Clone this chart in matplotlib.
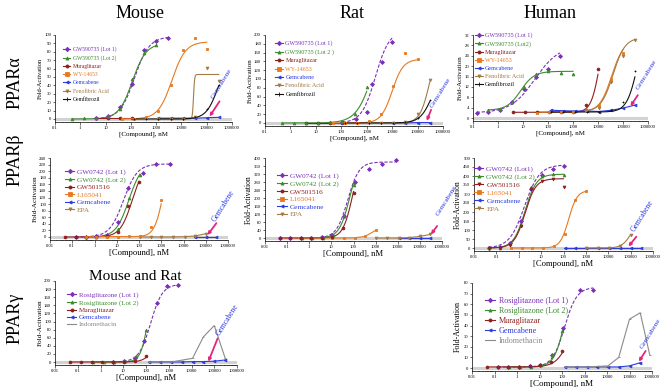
import numpy as np
import matplotlib
matplotlib.use("Agg")
import matplotlib.pyplot as plt
from matplotlib.lines import Line2D
from matplotlib.ticker import FixedLocator, LogLocator, NullFormatter

plt.rcParams['font.family'] = ['Liberation Serif', 'DejaVu Serif']

W, H = 666, 389

PURPLE = '#7a30b8'
GREEN = '#3d8b2f'
DKRED = '#8e1f1f'
ORANGE = '#e8791e'
BLUE = '#2c3be0'
TAN = '#a47b45'
BLACK = '#111111'
GREY = '#8a8a8a'
PINK = '#e3267d'

# ----------------------------------------------------------------- PPARa mouse
ma_gw1_x = [4.1, 12, 37, 111, 333, 1000, 3000]
ma_gw1_y = [1, 4, 14, 42, 82, 93, 97]
ma_gw1_fit = [0, 98, 140, 1.5]
ma_gw2_x = [0.46, 1.4, 4.1, 12, 37, 111, 333, 1000]
ma_gw2_y = [0, 1, 1, 3, 12, 48, 78, 88]
ma_gw2_fit = [0, 90, 115, 1.6]
ma_mura_x = [4.1, 12, 37, 111]
ma_mura_y = [1, 1, 1, 1]
ma_wy_x = [46, 137, 411, 1230, 3700, 11100, 33300, 100000]
ma_wy_y = [0, 0, 2, 10, 40, 82, 97, 83]
ma_wy_fit = [0, 92, 4200, 1.6]
ma_gem_x = [1230, 3700, 11100, 33300, 100000, 300000]
ma_gem_y = [1, 1, 1, 1, 1.5, 2]
ma_feno_x = [1230, 3700, 11100, 33300, 100000, 300000]
ma_feno_y = [0, 0, 0, 2, 61, 45]
ma_feno_fit = [0, 53, 30000, 20]
ma_gfz_x = [137, 411, 1230, 3700, 11100, 33300, 100000, 300000]
ma_gfz_y = [0, 0, 0, 0, 0, 2, 12, 41]
ma_gfz_fit = [0, 80, 300000, 1.8]

# ----------------------------------------------------------------- PPARa rat
ra_gw1_x = [111, 370, 1000, 1600, 4000, 10000]
ra_gw1_y = [2, 8, 26, 88, 138, 183]
ra_gw1_fit = [0, 210, 2200, 1.6]
ra_gw2_x = [0.46, 1.4, 4.1, 12, 37, 111, 333, 1000]
ra_gw2_y = [0, 0, 1, 1, 2, 5, 20, 82]
ra_gw2_fit = [0, 250, 2000, 1.3]
ra_mura_x = [4.1, 12, 37, 111]
ra_mura_y = [1, 1, 1, 1]
ra_wy_x = [46, 137, 411, 1230, 3700, 11100, 33300, 100000]
ra_wy_y = [0, 0, 1, 5, 20, 85, 158, 145]
ra_wy_fit = [0, 145, 10000, 2]
ra_gem_x = [11100, 33300, 100000, 300000]
ra_gem_y = [0, 0, 1, 1]
ra_feno_x = [1230, 3700, 11100, 33300, 100000, 300000]
ra_feno_y = [0, 0, 0, 2, 20, 97]
ra_feno_fit = [0, 200, 320000, 2.2]
ra_gfz_x = [137, 411, 1230, 3700, 11100, 33300, 100000, 300000]
ra_gfz_y = [0, 0, 0, 0, 0, 2, 12, 52]
ra_gfz_fit = [0, 130, 400000, 1.8]

# ----------------------------------------------------------------- PPARa human
ha_gw1_x = [0.14, 0.41, 1.2, 3.7, 11, 33, 100, 300]
ha_gw1_y = [1.8, 2.3, 3, 6, 11, 16, 19, 24]
ha_gw1_fit = [2, 28, 30, 0.9]
ha_gw2_x = [0.41, 1.2, 3.7, 11, 33, 100, 333, 1000]
ha_gw2_y = [3, 3.3, 6, 12, 17, 18, 17.5, 17]
ha_gw2_fit = [3, 18, 8, 1.6]
ha_mura_x = [4.1, 12, 37, 111, 333, 1000, 3333, 10000]
ha_mura_y = [2.3, 2.3, 2.2, 2.2, 2.3, 2.5, 5, 19]
ha_mura_fit = [2.2, 40, 12000, 2.5]
ha_wy_x = [37, 111, 333, 1000, 3333, 11100, 33300, 100000]
ha_wy_y = [2, 2.2, 2.3, 2.5, 3, 5, 15, 25]
ha_wy_fit = [2.3, 30, 35000, 1.8]
ha_gem_x = [137, 411, 1230, 3700, 11100, 33300, 100000, 300000]
ha_gem_y = [3, 2.8, 2.7, 2.7, 2.5, 3, 3.8, 5]
ha_feno_x = [3333, 11100, 33300, 100000, 300000]
ha_feno_y = [3, 4, 14, 24, 30]
ha_feno_fit = [2.5, 31, 40000, 1.8]
ha_gfz_x = [137, 411, 1230, 3700, 11100, 33300, 100000, 300000]
ha_gfz_y = [2.3, 2.3, 2.3, 2.2, 2.2, 3, 6, 18]
ha_gfz_fit = [2.3, 40, 400000, 2]

# ----------------------------------------------------------------- PPARb mouse
mb_gw1_x = [0.14, 0.41, 1.2, 3.7, 11, 33, 150, 600, 2500]
mb_gw1_y = [1, 1, 2, 6, 45, 150, 195, 222, 222]
mb_gw1_fit = [0, 222, 20, 1.4]
mb_gw2_x = [0.41, 1.2, 3.7, 11, 37, 111]
mb_gw2_y = [0, 1, 3, 25, 120, 188]
mb_gw2_fit = [0, 225, 35, 1.5]
mb_516_x = [0.046, 0.14, 0.41, 1.2, 3.7, 11, 33, 100]
mb_516_y = [0, 0, 0, 1, 2, 15, 95, 168]
mb_516_fit = [0, 225, 50, 1.6]
mb_l16_x = [0.41, 1.2, 3.7, 11, 37, 111, 333, 1000]
mb_l16_y = [0, 0, 0, 1, 2, 3, 30, 112]
mb_l16_fit = [1, 250, 1200, 2.2]
mb_gem_x = [33300, 100000, 300000]
mb_gem_y = [0, 0, 0]
mb_epa_x = [111, 333, 1000, 3333, 11100, 33300, 100000]
mb_epa_y = [0, 0, 0, 0, 1, 3, 10]

# ----------------------------------------------------------------- PPARb rat
rb_gw1_x = [0.046, 0.14, 0.41, 1.2, 3.7, 11, 37, 111, 500, 2000, 8000]
rb_gw1_y = [0, 0, 0, 1, 3, 15, 110, 280, 343, 372, 388]
rb_gw1_fit = [0, 380, 55, 1.7]
rb_gw2_x = [0.46, 1.4, 4.1, 12, 37, 100]
rb_gw2_y = [0, 0, 2, 15, 110, 265]
rb_gw2_fit = [0, 420, 70, 1.8]
rb_516_x = [0.046, 0.14, 0.41, 1.2, 3.7, 11, 33, 100]
rb_516_y = [0, 0, 0, 0, 1, 5, 50, 225]
rb_516_fit = [0, 420, 90, 2]
rb_l16_x = [0.046, 0.14, 0.41, 1.2, 3.7, 11, 37, 111, 333, 1000]
rb_l16_y = [0, 0, 0, 0, 0, 0, 0, 1, 8, 38]
rb_gem_x = [11100, 33300, 100000, 300000]
rb_gem_y = [0, 0, 0, 0]
rb_epa_x = [1000, 3333, 11100, 33300, 100000, 300000]
rb_epa_y = [0, 0, 0, 2, 8, 18]

# ----------------------------------------------------------------- PPARb human
hb_gw1_x = [0.046, 0.14, 0.41, 1.2, 3.7, 11, 33, 100]
hb_gw1_y = [0, 5, 30, 150, 330, 405, 440, 455]
hb_gw1_fit = [0, 462, 1.8, 1.3]
hb_gw2_x = [0.046, 0.14, 0.41, 1.2, 3.7, 11, 33, 100]
hb_gw2_y = [0, 2, 20, 130, 340, 400, 410, 408]
hb_gw2_fit = [0, 410, 1.9, 1.7]
hb_516_x = [0.046, 0.14, 0.41, 1.2, 3.7, 11, 33, 100]
hb_516_y = [0, 2, 15, 120, 330, 375, 385, 340]
hb_516_fit = [0, 385, 1.9, 1.8]
hb_l16_x = [0.46, 1.4, 4.1, 12, 37, 111, 333, 1000]
hb_l16_y = [0, 0, 0, 0, 10, 80, 265, 315]
hb_l16_fit = [0, 320, 170, 2.3]
hb_gem_x = [111, 333, 1000, 3333, 11100, 33300, 100000, 300000]
hb_gem_y = [0, 0, 0, 0, 0, 0, 0, 0]
hb_epa_x = [1000, 3333, 11100, 33300, 100000]
hb_epa_y = [0, 0, 2, 12, 75]
hb_epa_fit = [0, 150, 100000, 2.2]

# ----------------------------------------------------------------- PPARg mouse and rat
mg_r1_x = [3.7, 11, 33, 82, 300, 800, 2500]
mg_r1_y = [1, 2, 10, 52, 145, 188, 190]
mg_r1_fit = [0, 192, 160, 1.7]
mg_r2_x = [0.46, 1.4, 4.1, 12, 37, 100]
mg_r2_y = [0, 0, 1, 3, 15, 78]
mg_r2_fit = [0, 250, 140, 2.5]
mg_mura_x = [0.046, 0.14, 0.41, 1.2, 3.7, 11, 33, 100]
mg_mura_y = [0, 0, 0, 0, 0, 1, 3, 15]
mg_mura_fit = [0, 80, 250, 2]
mg_gem_x = [137, 411, 1230, 3700, 11100, 33300, 100000, 300000]
mg_gem_y = [0, 0, 0, 0, 1, 1, 2, 5]
mg_indo_x = [137, 1230, 11100, 33300, 100000, 300000]
mg_indo_y = [0, 0, 9, 62, 90, 10]

# ----------------------------------------------------------------- PPARg human
hg_r1_x = [0.14, 0.41, 1.2, 3.7, 11, 37, 111, 600, 2500]
hg_r1_y = [1, 1, 1, 1.5, 3, 12, 38, 73, 73]
hg_r1_fit = [1, 76, 130, 1.6]
hg_r2_x = [0.46, 1.4, 4.1, 12, 37, 100]
hg_r2_y = [1, 1, 1, 3, 12, 35]
hg_r2_fit = [1, 100, 150, 1.8]
hg_mura_x = [0.046, 0.14, 0.41, 1.2, 3.7, 11, 33, 100]
hg_mura_y = [1, 1, 1, 1, 1.5, 3, 6, 16]
hg_mura_fit = [1, 50, 200, 1.5]
hg_gem_x = [137, 411, 1230, 3700, 11100, 33300, 100000, 300000]
hg_gem_y = [1, 1, 1, 1, 1, 1, 2, 5]
hg_indo_x = [137, 1230, 11100, 33300, 100000, 300000, 800000]
hg_indo_y = [1, 1, 2, 10, 46, 52, 12]


def hill(x, p):
    b, t, ec, n = p
    return b + (t - b) / (1 + (ec / x) ** n)


def S(label, x, y, color, marker, fit=None, dashed=False):
    return dict(label=label, x=x, y=y, color=color, marker=marker, fit=fit, dashed=dashed)


PANELS = [
    dict(box=(55, 232, 35, 119), xmin=0.1, ymax=100, ystep=10, leg=(0.045, 0.87), lfs=4.1, lsp=0.55,
         xfs=5, yfs=4.6, arrow=((1.3e5, 3), (3.2e5, 21)), gtext=(1.7e5, 25), gfs=5.2,
         series=[S('GW590735 (Lot 1)', ma_gw1_x, ma_gw1_y, PURPLE, 'D', ma_gw1_fit, True),
                 S('GW590735 (Lot 2)', ma_gw2_x, ma_gw2_y, GREEN, '^', ma_gw2_fit),
                 S('Muraglitazar', ma_mura_x, ma_mura_y, DKRED, 'o'),
                 S('WY-14653', ma_wy_x, ma_wy_y, ORANGE, 's', ma_wy_fit),
                 S('Gemcabene', ma_gem_x, ma_gem_y, BLUE, '<'),
                 S('Fenofibric Acid', ma_feno_x, ma_feno_y, TAN, 'v', ma_feno_fit),
                 S('Gemfibrozil', ma_gfz_x, ma_gfz_y, BLACK, '+', ma_gfz_fit)]),
    dict(box=(265, 443, 35, 123), xmin=0.1, ymax=200, ystep=20, leg=(0.056, 0.94), lfs=4.4, lsp=0.5,
         xfs=5, yfs=5, arrow=((2.3e5, 5), (3.4e5, 30)), gtext=(3.6e5, 36), gfs=5.2,
         series=[S('GW590735 (Lot 1)', ra_gw1_x, ra_gw1_y, PURPLE, 'D', ra_gw1_fit, True),
                 S('GW590735 (Lot 2 )', ra_gw2_x, ra_gw2_y, GREEN, '^', ra_gw2_fit),
                 S('Muraglitazar', ra_mura_x, ra_mura_y, DKRED, 'o'),
                 S('WY-14653', ra_wy_x, ra_wy_y, ORANGE, 's', ra_wy_fit),
                 S('Gemcabene', ra_gem_x, ra_gem_y, BLUE, '<'),
                 S('Fenofibric Acid', ra_feno_x, ra_feno_y, TAN, 'v', ra_feno_fit),
                 S('Gemfibrozil', ra_gfz_x, ra_gfz_y, BLACK, '+', ra_gfz_fit)]),
    dict(box=(473, 648, 35, 118), xmin=0.1, ymax=32, ystep=4, leg=(0.01, 1.03), lfs=4.4, lsp=0.45,
         xfs=5, yfs=5, arrow=((2e5, 4.6), (3.9e5, 8.8)), gtext=(3.7e5, 11), gfs=5.2,
         series=[S('GW590735 (Lot 1)', ha_gw1_x, ha_gw1_y, PURPLE, 'D', ha_gw1_fit, True),
                 S('GW590735 (Lot2)', ha_gw2_x, ha_gw2_y, GREEN, '^', ha_gw2_fit),
                 S('Muraglitazar', ha_mura_x, ha_mura_y, DKRED, 'o', ha_mura_fit),
                 S('WY-14653', ha_wy_x, ha_wy_y, ORANGE, 's', ha_wy_fit),
                 S('Gemcabene', ha_gem_x, ha_gem_y, BLUE, '<'),
                 S('Fenofibric Acid', ha_feno_x, ha_feno_y, TAN, 'v', ha_feno_fit),
                 S('Gemfibrozil', ha_gfz_x, ha_gfz_y, BLACK, '+', ha_gfz_fit)]),
    dict(box=(50, 228, 158, 237), xmin=0.01, ymax=240, ystep=20, leg=(0.084, 0.87), lfs=5.2, lsp=0.2,
         xfs=6.2, yfs=5.2, arrow=((1.2e5, 6), (3e5, 42)), gtext=(2.3e5, 50), gfs=5.5,
         series=[S('GW0742 (Lot 1)', mb_gw1_x, mb_gw1_y, PURPLE, 'D', mb_gw1_fit, True),
                 S('GW0742 (Lot 2)', mb_gw2_x, mb_gw2_y, GREEN, '^', mb_gw2_fit),
                 S('GW501516', mb_516_x, mb_516_y, DKRED, 'o', mb_516_fit),
                 S('L165041', mb_l16_x, mb_l16_y, ORANGE, 's', mb_l16_fit),
                 S('Gemcabene', mb_gem_x, mb_gem_y, BLUE, '<'),
                 S('EPA', mb_epa_x, mb_epa_y, TAN, 'v')]),
    dict(box=(265, 442, 158, 238), xmin=0.01, ymax=400, ystep=40, leg=(0.07, 0.82), lfs=5.2, lsp=0.2,
         xfs=6.2, yfs=5.5, arrow=((3.2e5, 18), (6e5, 60)), gtext=(6.2e5, 112), gfs=5.3,
         series=[S('GW0742 (Lot 1)', rb_gw1_x, rb_gw1_y, PURPLE, 'D', rb_gw1_fit, True),
                 S('GW0742 (Lot 2)', rb_gw2_x, rb_gw2_y, GREEN, '^', rb_gw2_fit),
                 S('GW501516', rb_516_x, rb_516_y, DKRED, 'o', rb_516_fit),
                 S('L165041', rb_l16_x, rb_l16_y, ORANGE, 's'),
                 S('Gemcabene', rb_gem_x, rb_gem_y, BLUE, '<'),
                 S('EPA', rb_epa_x, rb_epa_y, TAN, 'v')]),
    dict(box=(474, 653, 158, 248), xmin=0.01, ymax=500, ystep=50, leg=(0.0, 0.92), lfs=5.2, lsp=0.25,
         xfs=6.2, yfs=5.5, arrow=((8e4, 8), (1.8e5, 63)), gtext=(1.25e5, 95), gfs=5.5,
         series=[S('GW0742 (Lot1)', hb_gw1_x, hb_gw1_y, PURPLE, 'D', hb_gw1_fit, True),
                 S('GW0742 (Lot 2)', hb_gw2_x, hb_gw2_y, GREEN, '^', hb_gw2_fit),
                 S('GW501516', hb_516_x, hb_516_y, DKRED, 'v', hb_516_fit),
                 S('L165041', hb_l16_x, hb_l16_y, ORANGE, 's', hb_l16_fit),
                 S('Gemcabene', hb_gem_x, hb_gem_y, BLUE, '<'),
                 S('EPA', hb_epa_x, hb_epa_y, TAN, 'v', hb_epa_fit)]),
    dict(box=(55, 237, 281, 362), xmin=0.01, ymax=200, ystep=20, leg=(0.066, 0.87), lfs=5.0, lsp=0.2,
         xfs=6.2, yfs=5.2, arrow=((5.5e4, 1), (1.4e5, 58)), gtext=(1.4e5, 68), gfs=5.5,
         series=[S('Rosiglitazone (Lot 1)', mg_r1_x, mg_r1_y, PURPLE, 'D', mg_r1_fit, True),
                 S('Rosiglitazone (Lot 2)', mg_r2_x, mg_r2_y, GREEN, '^', mg_r2_fit),
                 S('Muraglitazar', mg_mura_x, mg_mura_y, DKRED, 'o', mg_mura_fit),
                 S('Gemcabene', mg_gem_x, mg_gem_y, BLUE, '<'),
                 S('Indomethacin', mg_indo_x, mg_indo_y, GREY, '_')]),
    dict(box=(472, 652, 283, 368), xmin=0.01, ymax=80, ystep=10, leg=(0.07, 0.84), lfs=5.9, lsp=0.25,
         xfs=6.5, yfs=5.8, arrow=((2.6e5, 6), (5.2e5, 16)), gtext=(3.3e5, 19), gfs=5.3,
         series=[S('Rosiglitazone (Lot 1)', hg_r1_x, hg_r1_y, PURPLE, 'D', hg_r1_fit, True),
                 S('Rosiglitazone (Lot 2)', hg_r2_x, hg_r2_y, GREEN, '^', hg_r2_fit),
                 S('Muraglitazar', hg_mura_x, hg_mura_y, DKRED, 'o', hg_mura_fit),
                 S('Gemcabene', hg_gem_x, hg_gem_y, BLUE, '<'),
                 S('Indomethacin', hg_indo_x, hg_indo_y, GREY, '_')]),
]


def draw(fig, P):
    left, right, top, y0 = P['box']
    bottom = y0 + 3
    ax = fig.add_axes([left / W, 1 - bottom / H, (right - left) / W, (bottom - top) / H])
    pad = P['ymax'] * 3 / (y0 - top)
    ax.set_xscale('log')
    ax.set_xlim(P['xmin'], 1e6)
    ax.set_ylim(-pad, P['ymax'])
    ax.axhline(0, color='#d2d2d2', lw=2.2, zorder=0.5)
    handles = []
    for s in P['series']:
        ls = (0, (3, 1.5)) if s['dashed'] else '-'
        if s['fit'] is not None:
            xx = np.logspace(np.log10(min(s['x'])), np.log10(max(s['x'])), 300)
            ax.plot(xx, hill(xx, s['fit']), color=s['color'], lw=0.8, ls=ls, zorder=2)
            ax.plot(s['x'], s['y'], ls='none', marker=s['marker'], ms=2.0, mew=0.6,
                    color=s['color'], zorder=3, clip_on=False)
        else:
            ax.plot(s['x'], s['y'], color=s['color'], lw=0.8, ls=ls, marker=s['marker'],
                    ms=2.0, mew=0.6, zorder=2, clip_on=False)
        handles.append(Line2D([], [], color=s['color'], lw=0.8, marker=s['marker'], ms=2.2, mew=0.6))
    leg = ax.legend(handles, [s['label'] for s in P['series']], loc='upper left',
                    bbox_to_anchor=P['leg'], frameon=False, fontsize=P['lfs'], handlelength=1.3,
                    handletextpad=0.4, labelspacing=P['lsp'], borderpad=0, borderaxespad=0,
                    numpoints=1)
    for t, s in zip(leg.get_texts(), P['series']):
        t.set_color(s['color'])

    decades = [10.0 ** k for k in range(int(round(np.log10(P['xmin']))), 7)]
    ax.xaxis.set_major_locator(FixedLocator(decades))
    ax.set_xticklabels(['%.10g' % d for d in decades])
    ax.xaxis.set_minor_locator(LogLocator(base=10, subs=np.arange(2, 10)))
    ax.xaxis.set_minor_formatter(NullFormatter())
    ax.set_yticks(np.arange(0, P['ymax'] + 0.1, P['ystep']))
    ax.tick_params(which='major', labelsize=3.4, length=1.8, width=0.4, pad=1)
    ax.tick_params(which='minor', length=1.0, width=0.3)
    for sp in ['top', 'right']:
        ax.spines[sp].set_visible(False)
    for sp in ['left', 'bottom']:
        ax.spines[sp].set_linewidth(0.5)
    ax.set_xlabel('[Compound], nM', fontsize=P['xfs'], labelpad=1)
    ax.set_ylabel('Fold-Activation', fontsize=P['yfs'], labelpad=1)

    tip, tail = P['arrow']
    ax.annotate('', xy=tip, xytext=tail, annotation_clip=False,
                arrowprops=dict(arrowstyle='-|>', color=PINK, lw=1.3, mutation_scale=4,
                                shrinkA=0, shrinkB=0))
    ax.text(P['gtext'][0], P['gtext'][1], 'Gemcabene', rotation=58, rotation_mode='anchor',
            ha='left', va='center', color=BLUE, fontsize=P['gfs'], clip_on=False)
    return ax


fig = plt.figure(figsize=(W / 100, H / 100), dpi=100)
for P in PANELS:
    draw(fig, P)

for txt, x, y, fs in [('Mouse', 140, 13, 13), ('Rat', 352, 13, 13), ('Human', 550, 13, 13),
                      ('Mouse and Rat', 135, 277, 11)]:
    fig.text(x / W, 1 - y / H, txt, ha='center', va='center', fontsize=fs)
for txt, y in [('PPARα', 83), ('PPARβ', 160), ('PPARγ', 318)]:
    fig.text(15 / W, 1 - y / H, txt, ha='center', va='center', rotation=90, fontsize=13)

fig.savefig('out.png', dpi=100)
